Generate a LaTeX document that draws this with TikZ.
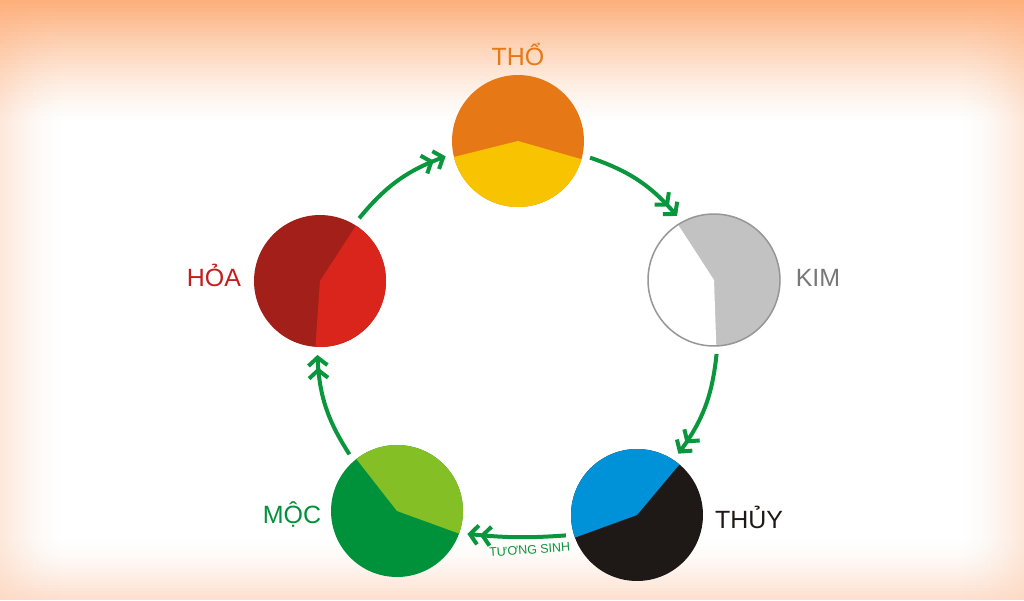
\documentclass[tikz,border=0pt]{standalone}
\usepackage{fontspec}
\setmainfont{Liberation Sans}
\usetikzlibrary{arrows.meta}
% mau cua ngu hanh
\definecolor{thoorange}{RGB}{230,121,22}
\definecolor{thoyellow}{RGB}{248,195,0}
\definecolor{kimgrey}{RGB}{194,194,194}
\definecolor{kimline}{RGB}{150,150,150}
\definecolor{kimtext}{RGB}{120,120,120}
\definecolor{thuyblue}{RGB}{0,146,216}
\definecolor{thuyblack}{RGB}{30,25,22}
\definecolor{moclight}{RGB}{132,192,37}
\definecolor{mocdark}{RGB}{0,146,58}
\definecolor{hoadark}{RGB}{163,32,26}
\definecolor{hoabright}{RGB}{217,37,28}
\definecolor{hoatext}{RGB}{196,30,30}
\definecolor{arrowgreen}{RGB}{10,150,60}
\definecolor{bgorange}{RGB}{253,176,124}
\definecolor{bgpeach}{RGB}{253,214,190}
\tikzset{
  hanh/.style={circle, minimum size=2.64cm, inner sep=0pt, outer sep=0.16cm},
  lbl/.style={anchor=base, font=\fontsize{14.2}{16}\selectfont},
  flow/.style={draw=arrowgreen, line width=0.08cm,
    -{Straight Barb[sharp,length=0.16cm,width=0.38cm]Straight Barb[sharp,length=0.16cm,width=0.38cm]}}
}
\begin{document}
\begin{tikzpicture}[x=0.02cm,y=0.02cm]
  \useasboundingbox (0,0) rectangle (1024,600);
  % nen: trang o giua, vien cam nhat (tung dai mong)
  \fill[white] (0,0) rectangle (1024,600);
  \foreach \i in {0,...,19} {
    \pgfmathsetmacro\op{0.55*(1-\i/20)^1.5}
    \fill[bgpeach, fill opacity=\op] (\i*3,0) rectangle (\i*3+3,600);
    \fill[bgpeach, fill opacity=\op] (1021-\i*3,0) rectangle (1024-\i*3,600);
    \pgfmathsetmacro\opb{0.75*(1-\i/20)^1.5}
    \fill[bgpeach, fill opacity=\opb] (0,\i*3) rectangle (1024,\i*3+3);
  }
  \foreach \i in {0,...,29} {
    \pgfmathsetmacro\op{(1-\i/30)^1.3}
    \fill[bgorange, fill opacity=\op] (0,596-\i*4) rectangle (1024,600-\i*4);
  }

  % nam vong tron: ten/x/y/mau nen/mau phan/goc dau/goc cuoi/vien
  \foreach \el/\x/\y/\base/\part/\from/\to/\rim in {
      tho/518/459/thoorange/thoyellow/194/344/none,
      kim/714/320/kimgrey/white/123/272/kimline,
      thuy/637/85/thuyblack/thuyblue/50/200/none,
      moc/397/89/mocdark/moclight/-20/128/none,
      hoa/320/319/hoadark/hoabright/-94/57/none} {
    \node[hanh, fill=\base, draw=\rim, line width=0.03cm,
      path picture={\fill[\part] (path picture bounding box.center)
        -- +(\from:3cm) -- +({(\from+\to)/2}:3cm) -- +(\to:3cm) -- cycle;}]
      (\el) at (\x,\y) {};
  }

  % ten cac hanh
  \node[lbl, thoorange] (lbltho) at (518,535) {THỔ};
  \node[lbl, kimtext] (lblkim) at (818,314) {KIM};
  \node[lbl, thuyblack] (lblthuy) at (749,72) {THỦY};
  \node[lbl, mocdark] (lblmoc) at (292,77) {MỘC};
  \node[lbl, hoatext] (lblhoa) at (214,314) {HỎA};

  % vong tuong sinh
  \draw[flow] (hoa.58) to[bend left=15] (tho.192);
  \draw[flow] (tho.-13) to[bend left=15] (kim.120);
  \draw[flow] (kim.-88) to[bend left=15] (thuy.56);
  \draw[flow] (thuy.196) to[bend left=5] (moc.-18);
  \draw[flow] (moc.130) to[bend left=15] (hoa.268);
  \node[arrowgreen, font=\fontsize{7.1}{8}\selectfont, rotate=4, anchor=base]
    (lblsinh) at (530,46) {TƯƠNG SINH};
\end{tikzpicture}
\end{document}
